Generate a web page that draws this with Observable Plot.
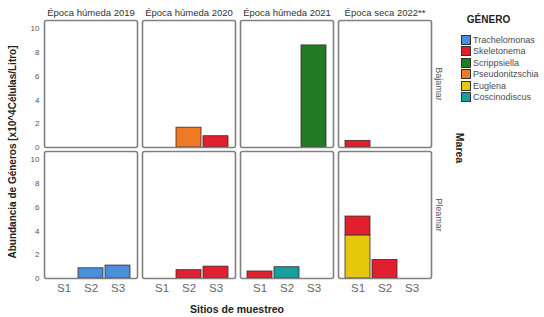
<!DOCTYPE html>
<html>
<head>
<meta charset="utf-8">
<script src="https://cdn.jsdelivr.net/npm/d3@7"></script>
<script src="https://cdn.jsdelivr.net/npm/@observablehq/plot@0.6"></script>
<style>
  html, body { margin: 0; padding: 0; background: #fff; }
  #wrap { position: relative; width: 544px; height: 317px; font-family: "Liberation Sans", Arial, sans-serif; }
  #wrap svg { position: absolute; left: 0; top: 0; }
  .t { position: absolute; white-space: nowrap; color: #222; font-weight: bold; }
  #legend { position: absolute; left: 461px; top: 14px; font-size: 9px; color: #4a4a55; }
  #legend .title { font-weight: bold; font-size: 10px; color: #222; text-align: center; width: 55px; margin-left: 0px; margin-bottom: 9px; }
  #legend .row { display: flex; align-items: center; height: 11.5px; }
  #legend .sw { width: 8px; height: 8px; border: 0.8px solid #333; margin-right: 2px; }
</style>
</head>
<body>
<div id="wrap"></div>
<script>
const epocas = ["Época húmeda 2019", "Época húmeda 2020", "Época húmeda 2021", "Época seca 2022**"];
const mareas = ["Bajamar", "Pleamar"];
const sitios = ["S1", "S2", "S3"];
const generos = ["Trachelomonas", "Skeletonema", "Scrippsiella", "Pseudonitzschia", "Euglena", "Coscinodiscus"];
const colores = ["#4a8fdc", "#e01f2f", "#237a25", "#f07a24", "#e5c70b", "#14a09c"];
const yTicks = [0, 2, 4, 6, 8, 10];

// observations (parallel arrays)
const obsEpoca  = [1, 1, 2, 3, 0, 0, 1, 1, 2, 2, 3, 3, 3];
const obsMarea  = ["Bajamar", "Bajamar", "Bajamar", "Bajamar", "Pleamar", "Pleamar", "Pleamar", "Pleamar", "Pleamar", "Pleamar", "Pleamar", "Pleamar", "Pleamar"];
const obsSitio  = ["S2", "S3", "S3", "S1", "S2", "S3", "S2", "S3", "S1", "S2", "S1", "S1", "S2"];
const obsGenero = ["Pseudonitzschia", "Skeletonema", "Scrippsiella", "Skeletonema", "Trachelomonas", "Trachelomonas", "Skeletonema", "Skeletonema", "Skeletonema", "Coscinodiscus", "Euglena", "Skeletonema", "Skeletonema"];
const obsValor  = [1.67, 0.95, 8.6, 0.56, 0.86, 1.09, 0.70, 1.0, 0.59, 0.95, 3.63, 1.59, 1.56];

const data = obsValor.map((v, i) => ({
  epoca: epocas[obsEpoca[i]], marea: obsMarea[i], sitio: obsSitio[i], genero: obsGenero[i], valor: v
}));

// every panel (so empty panels still get a frame)
const panels = d3.cross(epocas, mareas).map(([e, m]) => ({ epoca: e, marea: m }));
const lastEpoca = epocas[epocas.length - 1];

const chart = Plot.plot({
  width: 544,
  height: 317,
  marginLeft: 43,
  marginRight: 113,
  marginTop: 20,
  marginBottom: 38,
  style: { fontFamily: "Liberation Sans, Arial, sans-serif", background: "white" },
  fx: { domain: epocas, paddingInner: 0.055, paddingOuter: 0, axis: null },
  fy: { domain: mareas, paddingInner: 0.03, paddingOuter: 0, axis: null },
  x: { domain: sitios, paddingInner: 0.074, paddingOuter: 0.25, axis: null },
  y: { domain: [0, 10.7], axis: null },
  color: { domain: generos, range: colores },
  marks: [
    Plot.ruleY(panels, { fx: "epoca", fy: "marea", y: 0, strokeOpacity: 0 }),
    Plot.barY(data, { fx: "epoca", fy: "marea", x: "sitio", y: "valor", fill: "genero", stroke: "#3a2a2a", strokeWidth: 0.8 }),
    Plot.frame({ stroke: "#808080", strokeWidth: 1.6, rx: 2 }),
    Plot.axisFx({ anchor: "top", label: null, tickSize: 0, tickPadding: 5, fontSize: 9.5, fill: "#333" }),
    Plot.text(mareas, { fx: () => lastEpoca, fy: (d) => d, text: (d) => d, frameAnchor: "right", rotate: 90, dx: 7, textAnchor: "middle", fontSize: 9, fill: "#555" }),
    Plot.axisY(yTicks, { anchor: "left", facetAnchor: "left", label: null, tickSize: 0, tickPadding: 5, fontSize: 8, fill: "#555" }),
    Plot.axisX({ anchor: "bottom", facetAnchor: "bottom", label: null, tickSize: 0, tickPadding: 5, fontSize: 11.5, fill: "#666" })
  ]
});

const wrap = document.getElementById("wrap");
wrap.appendChild(chart);

function addText(txt, x, y, size, rot) {
  const d = document.createElement("div");
  d.className = "t";
  d.textContent = txt;
  d.style.fontSize = size + "px";
  d.style.left = x + "px";
  d.style.top = y + "px";
  d.style.transform = "translate(-50%, -50%)" + (rot ? " rotate(" + rot + "deg)" : "");
  wrap.appendChild(d);
}
addText("Abundancia de Géneros [x10^4Células/Litro]", 12, 152, 10, -90);
addText("Sitios de muestreo", 237, 309, 10.5, 0);
addText("Marea", 460, 148, 10.5, 90);

const leg = document.createElement("div");
leg.id = "legend";
const title = document.createElement("div");
title.className = "title";
title.textContent = "GÉNERO";
leg.appendChild(title);
generos.forEach((g, i) => {
  const r = document.createElement("div");
  r.className = "row";
  const sw = document.createElement("div");
  sw.className = "sw";
  sw.style.background = colores[i];
  const lab = document.createElement("span");
  lab.textContent = g;
  r.appendChild(sw);
  r.appendChild(lab);
  leg.appendChild(r);
});
wrap.appendChild(leg);
</script>
</body>
</html>
